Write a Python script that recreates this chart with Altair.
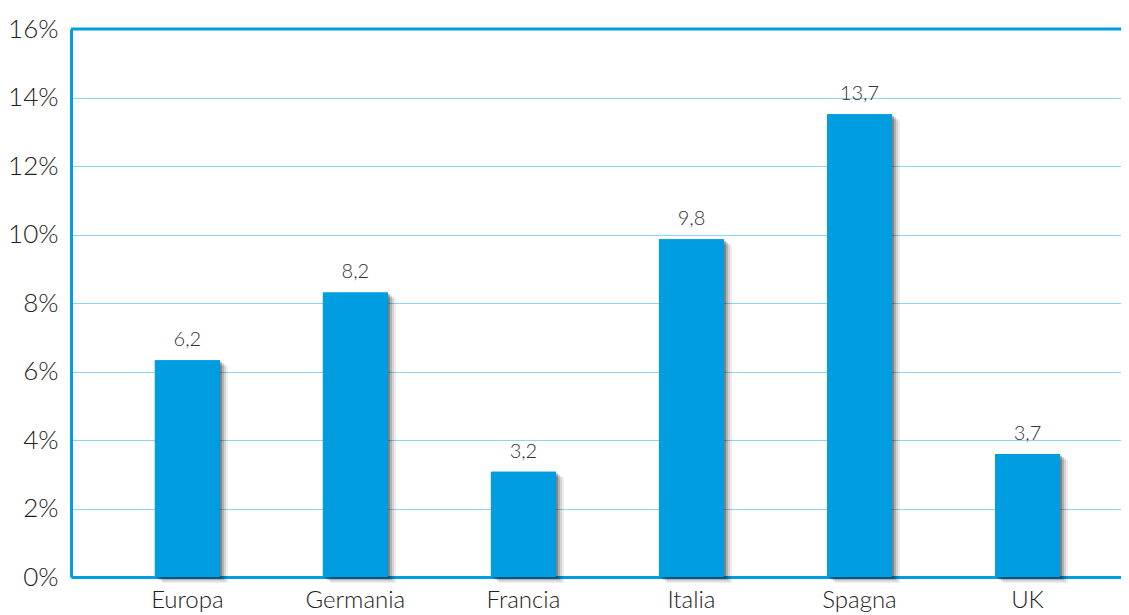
import altair as alt
import pandas as pd

categories = ["Europa", "Germania", "Francia", "Italia", "Spagna", "UK"]
bar_values = [6.33, 8.31, 3.07, 9.86, 13.51, 3.59]
label_texts = ["6,2", "8,2", "3,2", "9,8", "13,7", "3,7"]
y_ticks = [0, 2, 4, 6, 8, 10, 12, 14, 16]
top_value = [16]

df = pd.DataFrame({"cat": categories, "val": bar_values, "lab": label_texts})
top_df = pd.DataFrame({"y": top_value})

FRAME = "#009fe3"
GRID = "#8fd4f2"
BAR = "#009ee0"
FONT = "Lato"

xscale = alt.Scale(paddingInner=0.613, paddingOuter=0.431, align=0.579)
yscale = alt.Scale(domain=[0, 16], nice=False)

x_enc = alt.X("cat:N", sort=categories, scale=xscale,
              axis=alt.Axis(title=None, labelAngle=0, tickSize=0, labelPadding=11,
                            labelFontSize=24, labelFont=FONT, labelFontWeight=300,
                            labelColor="#222222", domainColor=FRAME, domainWidth=3))
y_enc = alt.Y("val:Q", scale=yscale,
              axis=alt.Axis(title=None, values=y_ticks, tickSize=0, labelPadding=13,
                            labelExpr="datum.value + '%'", labelFontSize=26,
                            labelFont=FONT, labelFontWeight=300, labelColor="#222222",
                            domainColor=FRAME, domainWidth=3,
                            gridColor=GRID, gridWidth=1.2))

base = alt.Chart(df)

shadows = [
    base.mark_bar(color="#000000", opacity=op, xOffset=dx, yOffset=dy, y2Offset=dy)
    .encode(x=alt.X("cat:N", sort=categories, scale=xscale), y=alt.Y("val:Q", scale=yscale))
    for dx, dy, op in [(8, 6, 0.07), (6, 4.5, 0.11), (4, 3, 0.17), (2, 1.5, 0.26)]
]

bars = base.mark_bar(color=BAR).encode(x=x_enc, y=y_enc)

text = base.mark_text(dy=-14, baseline="alphabetic", fontSize=20, font=FONT,
                      fontWeight=300, color="#333333").encode(
    x=alt.X("cat:N", sort=categories, scale=xscale),
    y=alt.Y("val:Q", scale=yscale),
    text="lab:N",
)

top_rule = alt.Chart(top_df).mark_rule(color=FRAME, strokeWidth=3).encode(
    y=alt.Y("y:Q", scale=yscale)
)

chart = alt.layer(bars, *shadows, bars, text, top_rule).properties(
    width=1050, height=548,
    autosize=alt.AutoSizeParams(type="none"),
    padding={"left": 63, "top": 21, "right": 0, "bottom": 40},
).configure_view(stroke=None).configure(background="white")

chart.save("out.html", embed_options={"renderer": "svg", "actions": False})
